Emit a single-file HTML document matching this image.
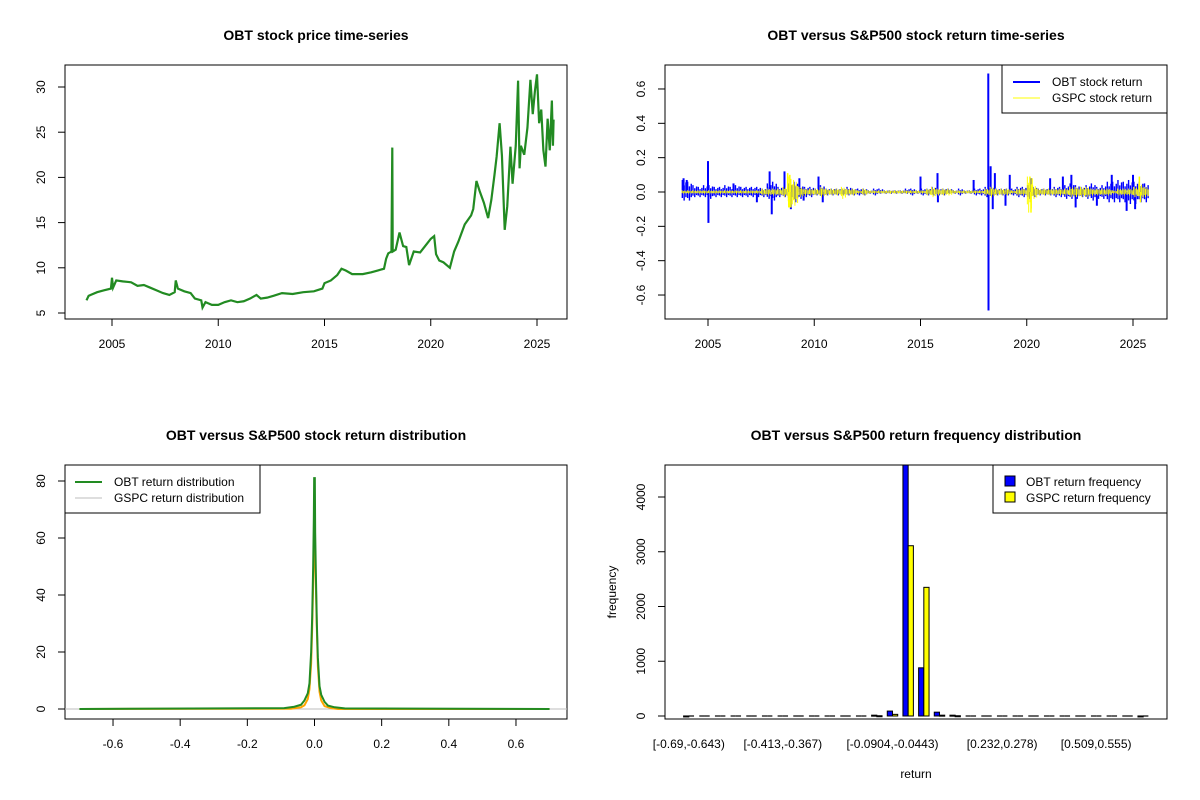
<!DOCTYPE html>
<html><head><meta charset="utf-8"><style>
body{margin:0;background:#fff}
svg{display:block;font-family:"Liberation Sans",Arial,sans-serif}
text{fill:#000}
</style></head><body>
<svg id="c" width="1200" height="800" viewBox="0 0 1200 800" xmlns="http://www.w3.org/2000/svg"></svg>
<script>
// ---------- data ----------
const priceYears=[2003.8,2003.9,2004.0,2004.3,2004.6,2004.95,2005.0,2005.05,2005.2,2005.5,2005.9,2006.2,2006.5,2006.8,2007.1,2007.4,2007.7,2007.95,2008.0,2008.1,2008.4,2008.7,2008.9,2009.2,2009.26,2009.4,2009.7,2010.0,2010.3,2010.6,2010.9,2011.2,2011.5,2011.8,2012.0,2012.3,2012.6,2013.0,2013.5,2014.0,2014.5,2014.9,2015.0,2015.3,2015.6,2015.8,2016.0,2016.3,2016.8,2017.2,2017.5,2017.8,2017.9,2018.0,2018.15,2018.19,2018.21,2018.35,2018.53,2018.7,2018.85,2018.98,2019.2,2019.5,2019.8,2020.0,2020.16,2020.25,2020.4,2020.6,2020.9,2021.1,2021.3,2021.6,2021.9,2022.0,2022.15,2022.3,2022.5,2022.7,2022.85,2023.0,2023.1,2023.24,2023.35,2023.48,2023.6,2023.75,2023.85,2024.0,2024.11,2024.18,2024.24,2024.4,2024.55,2024.69,2024.8,2024.9,2025.0,2025.1,2025.2,2025.3,2025.4,2025.5,2025.6,2025.7,2025.75,2025.78];
const prices=[6.4,6.9,7.0,7.3,7.5,7.7,8.9,7.8,8.6,8.5,8.4,8.0,8.1,7.8,7.5,7.2,7.0,7.3,8.6,7.7,7.4,7.2,6.6,6.4,5.6,6.2,5.9,5.9,6.2,6.4,6.2,6.3,6.6,7.0,6.6,6.7,6.9,7.2,7.1,7.3,7.4,7.7,8.3,8.6,9.2,9.9,9.7,9.3,9.3,9.5,9.7,9.9,11.0,11.6,11.8,23.3,11.8,12.0,13.9,12.4,12.3,10.3,11.8,11.7,12.6,13.2,13.5,11.5,10.8,10.6,10.0,11.8,12.9,14.8,15.8,16.5,19.6,18.5,17.2,15.5,17.5,20.3,22.3,26.0,22.4,14.2,16.8,23.4,19.3,23.5,30.7,21.0,23.5,22.5,25.5,30.8,27.0,29.5,31.4,26.0,27.5,23.0,21.2,26.5,23.0,28.5,23.5,26.4];

const qStart=2003.75;
const obtUp=[7,6,4,3,4, 4,3,3,4, 3,4,3,3, 3,3,2,5, 6,3,2,5, 6,4,3,3, 2,4,2,2, 2,2,3,2, 2,2,1,2, 2,1,1,1, 1,2,2,1, 2,2,3,2, 2,2,1,2, 1,1,2,2, 3,3,2,2, 2,2,3,3, 4,3,2,2, 2,3,3,4, 5,4,3,4, 5,3,4,6, 6,7,6,7, 6,6,5];
const obtDn=[5,5,3,3,3, 4,3,3,3, 3,3,3,3, 3,3,3,4, 5,3,3,5, 6,4,3,3, 2,3,2,2, 2,2,2,2, 2,2,1,2, 1,1,1,1, 1,1,2,1, 2,2,2,2, 2,1,1,2, 1,1,2,2, 3,3,2,2, 2,2,3,3, 4,3,2,2, 2,3,3,4, 4,4,3,4, 5,4,4,6, 6,6,6,7, 7,6,6];
const gspcUp=[1,1,1,1,1, 1,1,1,1, 1,1,1,1, 1,1,2,2, 2,2,3,9, 7,3,2,2, 2,3,2,2, 2,3,2,2, 1,2,1,1, 1,1,1,1, 1,1,1,1, 1,2,3,2, 2,2,1,1, 1,1,1,1, 2,3,2,2, 2,1,2,2, 9,4,2,2, 2,2,2,2, 3,3,3,3, 2,2,2,2, 1,2,2,2, 3,5,3];
const gspcDn=[1,1,1,1,1, 1,1,1,1, 1,1,1,1, 1,1,2,2, 2,2,3,9, 8,3,2,2, 2,3,2,2, 2,4,2,2, 1,2,1,1, 1,1,1,1, 1,1,1,1, 1,2,3,2, 2,2,1,1, 1,1,1,1, 2,3,2,2, 2,1,2,2, 12,4,2,2, 2,2,2,2, 3,3,3,3, 2,2,2,2, 1,2,2,2, 3,4,3];
const obtSpikeYears=[2003.85,2004.0,2005.0,2005.02,2006.2,2007.3,2007.9,2008.0,2008.6,2008.9,2009.3,2009.5,2010.2,2010.4,2015.0,2015.8,2015.82,2017.5,2018.19,2018.2,2018.3,2018.4,2018.5,2019.0,2019.2,2020.2,2021.1,2021.7,2022.1,2022.3,2023.3,2024.0,2024.7,2025.0,2025.1];
const obtSpikes=[0.08,0.07,0.18,-0.18,0.05,-0.06,0.12,-0.13,0.12,-0.1,0.08,-0.05,0.09,-0.06,0.09,0.11,-0.06,0.07,0.69,-0.69,0.15,-0.1,0.11,-0.08,0.1,0.08,0.08,0.09,0.1,-0.09,-0.08,0.1,-0.11,0.1,-0.1];
const gspcSpikeYears=[2008.75,2008.8,2008.85,2008.9,2020.15,2020.2,2020.25,2025.3,2025.35];
const gspcSpikes=[0.11,-0.09,0.1,-0.09,0.09,-0.12,0.08,0.09,-0.06];

const densX=[-0.7,-0.09,-0.06,-0.04,-0.03,-0.02,-0.015,-0.01,-0.007,-0.004,-0.002,-0.001,0.001,0.002,0.004,0.007,0.01,0.015,0.02,0.03,0.04,0.06,0.09,0.7];
const obtDens=[0,0.3,0.8,1.5,3,5.5,9,20,32,50,67,81,81,62,48,30,18,8,5,2.5,1.2,0.6,0.2,0];
const gDensX=[-0.7,-0.07,-0.04,-0.03,-0.02,-0.015,-0.01,-0.007,-0.004,-0.002,0,0.002,0.004,0.007,0.01,0.015,0.02,0.03,0.05,0.07,0.7];
const gspcDens=[0,0.1,0.6,1.3,3.5,7,16,28,44,55,57.5,55,44,28,15,6,3,1,0.3,0,0];

const binLabels=["[-0.69,-0.643)","","","","","","[-0.413,-0.367)","","","","","","","[-0.0904,-0.0443)","","","","","","","[0.232,0.278)","","","","","","[0.509,0.555)","","",""];
const obtFreq=[1,0,0,0,0,0,0,0,0,0,0,0,15,90,4600,880,70,15,0,0,0,0,0,0,0,0,0,0,0,1];
const gspcFreq=[0,0,0,0,0,0,0,0,0,0,0,0,5,30,3110,2350,15,5,0,0,0,0,0,0,0,0,0,0,0,0];

// ---------- helpers ----------
const svg=document.getElementById('c');const NS='http://www.w3.org/2000/svg';
function mk(tag,at,par){const e=document.createElementNS(NS,tag);for(const k in at)e.setAttribute(k,at[k]);(par||svg).appendChild(e);return e;}
function txt(s,x,y,o){const e=mk('text',Object.assign({x:x,y:y,'font-size':12,'text-anchor':'middle'},o||{}));e.textContent=s;return e;}

// ---------- panel 1: price ----------
const p1x=y=>112+(y-2005)*21.25, p1y=v=>313-(v-5)*9.04;
let e=mk('rect',{x:65,y:65,width:502,height:254,fill:'none',stroke:'#000'});


e=txt('OBT stock price time-series',316,40,{'font-size':14,'font-weight':'bold'});


[2005,2010,2015,2020,2025].forEach(t=>{mk('line',{x1:p1x(t),x2:p1x(t),y1:319,y2:326,stroke:'#000'});e=txt(String(t),p1x(t),348);

});
mk('line',{x1:p1x(2005),x2:p1x(2025),y1:319,y2:319,stroke:'#000'});
[5,10,15,20,25,30].forEach(t=>{mk('line',{x1:58,x2:65,y1:p1y(t),y2:p1y(t),stroke:'#000'});e=txt(String(t),45,p1y(t),{transform:`rotate(-90 45 ${p1y(t)})`});

});
mk('line',{x1:65,x2:65,y1:p1y(5),y2:p1y(30),stroke:'#000'});
e=mk('polyline',{points:priceYears.map((y,i)=>p1x(y)+','+p1y(prices[i])).join(' '),fill:'none',stroke:'#228B22','stroke-width':2.2});



// ---------- panel 2: returns ----------
const p2x=y=>708+(y-2005)*21.25, p2y=v=>192-v*171.7;
e=mk('rect',{x:665,y:65,width:502,height:254,fill:'none',stroke:'#000'});


e=txt('OBT versus S&P500 stock return time-series',916,40,{'font-size':14,'font-weight':'bold'});


[2005,2010,2015,2020,2025].forEach(t=>{mk('line',{x1:p2x(t),x2:p2x(t),y1:319,y2:326,stroke:'#000'});e=txt(String(t),p2x(t),348);

});
mk('line',{x1:p2x(2005),x2:p2x(2025),y1:319,y2:319,stroke:'#000'});
[-0.6,-0.4,-0.2,0,0.2,0.4,0.6].forEach(t=>{mk('line',{x1:658,x2:665,y1:p2y(t),y2:p2y(t),stroke:'#000'});e=txt(t.toFixed(1),645,p2y(t),{transform:`rotate(-90 645 ${p2y(t)})`});

});
mk('line',{x1:665,x2:665,y1:p2y(-0.6),y2:p2y(0.6),stroke:'#000'});
const gO=mk('g',{});


obtUp.forEach((u,i)=>{const yr=qStart+i*0.25;
 for(let k=0;k<3;k++){const f=[1,0.55,0.8][k];
  mk('line',{x1:p2x(yr)+k*1.8+0.9,x2:p2x(yr)+k*1.8+0.9,y1:p2y(u/100*f),y2:p2y(-obtDn[i]/100*[0.7,1,0.6][k]),stroke:'#0000FF','stroke-width':1.4},gO);}});
obtSpikeYears.forEach((yr,i)=>mk('line',{x1:p2x(yr),x2:p2x(yr),y1:p2y(0),y2:p2y(obtSpikes[i]),stroke:'#0000FF','stroke-width':2},gO));
const gG=mk('g',{});


gspcUp.forEach((u,i)=>{const yr=qStart+i*0.25;
 for(let k=0;k<4;k++){const f=[1,0.6,0.85,0.5][k];
  mk('line',{x1:p2x(yr)+k*1.33+0.6,x2:p2x(yr)+k*1.33+0.6,y1:p2y(u/100*f),y2:p2y(-gspcDn[i]/100*[0.6,1,0.5,0.8][k]),stroke:'#FFFF00','stroke-width':1},gG);}});
gspcSpikeYears.forEach((yr,i)=>mk('line',{x1:p2x(yr),x2:p2x(yr),y1:p2y(0),y2:p2y(gspcSpikes[i]),stroke:'#FFFF00','stroke-width':1.5},gG));
e=mk('g',{});


mk('rect',{x:1002,y:65,width:165,height:48,fill:'#fff',stroke:'#000'},e);
mk('line',{x1:1013,x2:1040,y1:82,y2:82,stroke:'#0000FF','stroke-width':2},e);
mk('line',{x1:1013,x2:1040,y1:98,y2:98,stroke:'#FFFF00'},e);
let t1=mk('text',{x:1052,y:86,'font-size':12},e);t1.textContent='OBT stock return';
let t2=mk('text',{x:1052,y:102,'font-size':12},e);t2.textContent='GSPC stock return';

// ---------- panel 3: density ----------
const p3x=v=>314.5+v*335.8, p3y=d=>709-d*2.85;
e=mk('rect',{x:65,y:465,width:502,height:254,fill:'none',stroke:'#000'});


e=txt('OBT versus S&P500 stock return distribution',316,440,{'font-size':14,'font-weight':'bold'});


[-0.6,-0.4,-0.2,0,0.2,0.4,0.6].forEach(t=>{mk('line',{x1:p3x(t),x2:p3x(t),y1:719,y2:726,stroke:'#000'});e=txt(t.toFixed(1),p3x(t),748);

});
mk('line',{x1:p3x(-0.6),x2:p3x(0.6),y1:719,y2:719,stroke:'#000'});
[0,20,40,60,80].forEach(t=>{mk('line',{x1:58,x2:65,y1:p3y(t),y2:p3y(t),stroke:'#000'});e=txt(String(t),45,p3y(t),{transform:`rotate(-90 45 ${p3y(t)})`});

});
mk('line',{x1:65,x2:65,y1:p3y(0),y2:p3y(80),stroke:'#000'});
e=mk('line',{x1:65,x2:567,y1:p3y(0),y2:p3y(0),stroke:'#BEBEBE'});


e=mk('polyline',{points:gDensX.map((x,i)=>p3x(x)+','+p3y(gspcDens[i])).join(' '),fill:'none',stroke:'#FFA500','stroke-width':2});


e=mk('polyline',{points:densX.map((x,i)=>p3x(x)+','+p3y(obtDens[i])).join(' '),fill:'none',stroke:'#228B22','stroke-width':2});


e=mk('g',{});


mk('rect',{x:65,y:465,width:195,height:48,fill:'#fff',stroke:'#000'},e);
mk('line',{x1:75,x2:102,y1:482,y2:482,stroke:'#228B22','stroke-width':2},e);
mk('line',{x1:75,x2:102,y1:498,y2:498,stroke:'#BEBEBE'},e);
t1=mk('text',{x:114,y:486,'font-size':12},e);t1.textContent='OBT return distribution';
t2=mk('text',{x:114,y:502,'font-size':12},e);t2.textContent='GSPC return distribution';

// ---------- panel 4: histogram ----------
const ux=5.2225, p4x=u=>665+(u+2.56)*ux, p4y=f=>Math.max(465,716-f*0.05475);
e=txt('OBT versus S&P500 return frequency distribution',916,440,{'font-size':14,'font-weight':'bold'});


const gH=mk('g',{});


function bar(u,f,col){
 if(f<=0){mk('line',{x1:p4x(u),x2:p4x(u)+ux,y1:716,y2:716,stroke:'#000','stroke-width':1.2},gH);}
 else mk('rect',{x:p4x(u),y:p4y(f),width:ux,height:Math.max(1,716-p4y(f)),fill:col,stroke:'#000','stroke-width':1},gH);
}
obtFreq.forEach((f,i)=>{const u=1+3*i;
 bar(u,f,'#0000FF');
 bar(u+1,gspcFreq[i],'#FFFF00');
 if(binLabels[i]){e=txt(binLabels[i],p4x(u+1),748);

}
});
e=mk('rect',{x:665,y:465,width:502,height:254,fill:'none',stroke:'#000'});


[0,1000,2000,3000,4000].forEach(t=>{mk('line',{x1:658,x2:665,y1:p4y(t),y2:p4y(t),stroke:'#000'});e=txt(String(t),645,p4y(t),{transform:`rotate(-90 645 ${p4y(t)})`});

});
mk('line',{x1:665,x2:665,y1:p4y(0),y2:p4y(4000),stroke:'#000'});
e=txt('frequency',616,592,{transform:'rotate(-90 616 592)'});


e=txt('return',916,778);


e=mk('g',{});


mk('rect',{x:993,y:465,width:174,height:48,fill:'#fff',stroke:'#000'},e);
mk('rect',{x:1005,y:476,width:10,height:10,fill:'#0000FF',stroke:'#000'},e);
mk('rect',{x:1005,y:492,width:10,height:10,fill:'#FFFF00',stroke:'#000'},e);
t1=mk('text',{x:1026,y:486,'font-size':12},e);t1.textContent='OBT return frequency';
t2=mk('text',{x:1026,y:502,'font-size':12},e);t2.textContent='GSPC return frequency';
</script>
</body></html>
